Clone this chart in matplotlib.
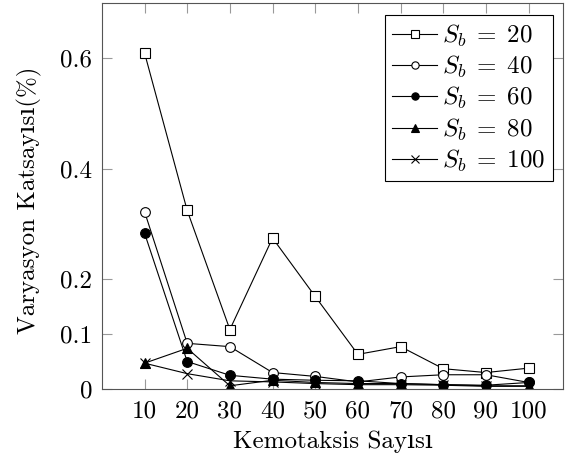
import matplotlib
matplotlib.use("Agg")
import matplotlib.pyplot as plt

plt.rcParams['font.family'] = ['cmr10', 'DejaVu Serif']
plt.rcParams['mathtext.fontset'] = 'cm'
plt.rcParams['axes.formatter.use_mathtext'] = True

kemotaksis = [10, 20, 30, 40, 50, 60, 70, 80, 90, 100]

sb20 = [0.610, 0.324, 0.108, 0.274, 0.168, 0.063, 0.077, 0.037, 0.030, 0.038]
sb40 = [0.322, 0.083, 0.077, 0.030, 0.023, 0.013, 0.022, 0.026, 0.026, 0.012]
sb60 = [0.283, 0.050, 0.025, 0.018, 0.016, 0.015, 0.010, 0.008, 0.007, 0.012]
sb80 = [0.047, 0.074, 0.006, 0.016, 0.012, 0.010, 0.010, 0.008, 0.006, 0.006]
sb100 = [0.047, 0.028, 0.015, 0.013, 0.010, 0.008, 0.008, 0.007, 0.005, 0.005]

series = [
    (sb20, 's', 'white', r'$S_b\;=\;20$'),
    (sb40, 'o', 'white', r'$S_b\;=\;40$'),
    (sb60, 'o', 'black', r'$S_b\;=\;60$'),
    (sb80, '^', 'black', r'$S_b\;=\;80$'),
    (sb100, 'x', 'black', r'$S_b\;=\;100$'),
]

fig = plt.figure(figsize=(5.69, 4.61), dpi=100)
ax = fig.add_axes([0.179, 0.156, 0.81, 0.837])

for vals, mk, fc, lab in series:
    ax.plot(kemotaksis, vals, color='black', lw=0.8, marker=mk,
            markerfacecolor=fc, markeredgecolor='black', markersize=7,
            markeredgewidth=0.8, label=lab)

ax.set_xlim(0, 108)
ax.set_ylim(0, 0.70)
ax.set_xticks(kemotaksis)
ax.set_xticklabels([str(k) for k in kemotaksis])
ax.set_yticks([0, 0.1, 0.2, 0.4, 0.6])
ax.set_yticklabels(['0', '0.1', '0.2', '0.4', '0.6'])
ax.tick_params(direction='in', top=True, right=True, length=7.5,
               width=0.8, color='#999999', labelsize=18)
ax.tick_params(axis='x', pad=8)
ax.tick_params(axis='y', pad=7)
for sp in ax.spines.values():
    sp.set_color('#555555')
    sp.set_linewidth(0.8)

ax.set_xlabel('Kemotaksis Sayısı', fontsize=18)
ax.set_ylabel('Varyasyon Katsayısı(%)', fontsize=18)
ax.xaxis.set_label_coords(0.502, -0.108)
ax.yaxis.set_label_coords(-0.13, 0.49)

leg = ax.legend(loc='upper right', fontsize=18, fancybox=False,
                edgecolor='black', framealpha=1, handlelength=1.8,
                handletextpad=0.2, labelspacing=0.2, borderpad=0.3,
                borderaxespad=0, markerscale=0.75,
                bbox_to_anchor=(0.979, 0.969))
leg.get_frame().set_linewidth(0.8)

fig.savefig('out.png', dpi=100)
